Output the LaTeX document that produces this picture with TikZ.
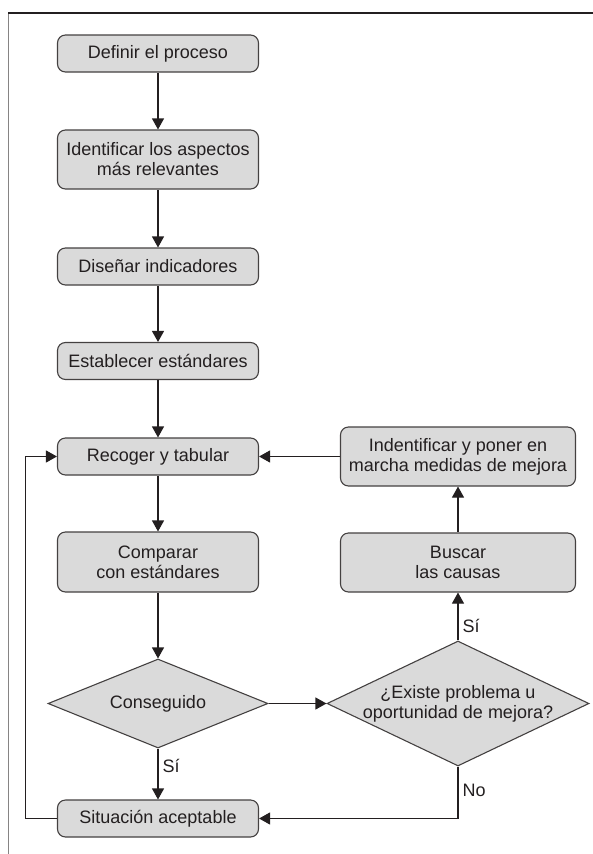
\documentclass[tikz,border=0pt]{standalone}
\usepackage{fontspec}
\setmainfont{Liberation Sans}
\usetikzlibrary{shapes.geometric}
\usetikzlibrary{arrows.meta}
\definecolor{boxgray}{RGB}{218,218,218}
\definecolor{ink}{RGB}{35,31,32}
\tikzset{b/.style={draw=ink!85, fill=boxgray, rounded corners=8pt, line width=1.1pt,
  minimum width=201pt, minimum height=37pt, inner sep=0pt, align=center,
  text=ink, font=\fontsize{18}{20}\selectfont}}
\tikzset{bw/.style={b, minimum width=235pt, minimum height=59pt}}
\tikzset{d/.style={diamond, draw=ink!85, fill=boxgray, line width=1.1pt, inner sep=-8pt,
  align=center, text=ink, font=\fontsize{18}{20}\selectfont}}
\tikzset{l/.style={font=\fontsize{18}{18}\selectfont, text=ink, inner sep=4pt}}

\begin{document}
\begin{tikzpicture}[x=1pt, y=-1pt, line width=1.1pt, draw=ink,
    >={Triangle[length=11pt,width=12pt]}]
  \useasboundingbox (0,0) rectangle (593,854);
  % frame
  \draw[ink!55, line width=0.9pt] (8.5,13) -- (8.5,854);
  \draw[ink, line width=1.4pt] (8,13) -- (593,13);

  \node[b] (def) at (158,53.5) {Definir el proceso};
  \node[b, minimum height=59pt] (ide) at (158,159.5) {Identificar los aspectos\\más relevantes}
    edge [<-] (def);
  \node[b] (dis) at (158,266.5) {Diseñar indicadores}
    edge [<-] (ide);
  \node[b] (est) at (158,361) {Establecer estándares}
    edge [<-] (dis);
  \node[b] (rec) at (158,456.5) {Recoger y tabular}
    edge [<-] (est);
  \node[b, minimum height=60pt] (com) at (158,562) {Comparar\\con estándares}
    edge [<-] (rec);
  \node[d, aspect=2.47, minimum width=220pt, minimum height=89pt] (con) at (158,703.5) {Conseguido}
    edge [<-] (com);
  \node[b] (sit) at (158,818.5) {Situación aceptable}
    edge [<-] node [right, l, pos=0.65] {Sí} (con);

  \node[d, aspect=2.1, minimum width=262pt, minimum height=125pt] (exi) at (458,703.5)
    {¿Existe problema u\\oportunidad de mejora?}
    edge [<-] (con);
  \node[bw] (bus) at (458,562.5) {Buscar\\las causas}
    edge [<-] node [right, l, pos=0.7] {Sí} (exi);
  \node[bw] (ind) at (458,456.5) {Indentificar y poner en\\marcha medidas de mejora}
    edge [<-] (bus)
    edge [->] (rec);

  \draw[->] (exi.south) |- node [right, l, pos=0.23] {No} (sit.east);
  \draw[->] (sit.west) -- ++(-31.5,0) |- (rec.west);
\end{tikzpicture}
\end{document}
